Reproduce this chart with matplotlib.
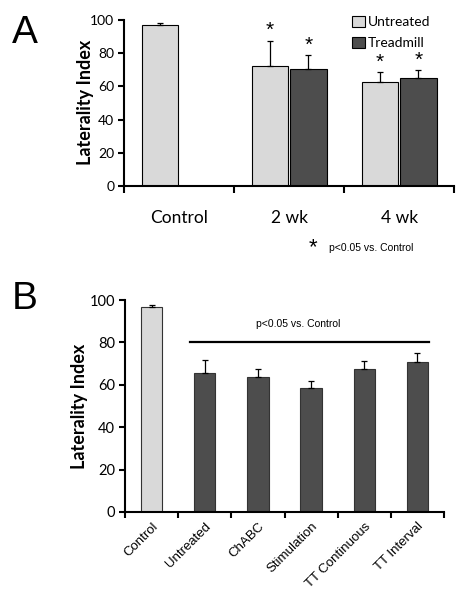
import matplotlib.pyplot as plt
import numpy as np

# panel A data
groups_a = ["Control", "2 wk", "4 wk"]
untreated_a = [96.6, 72.1, 62.4]
untreated_err_a = [1.4, 15.4, 6.3]
treadmill_a = [0, 70.3, 65.2]
treadmill_err_a = [0, 8.6, 4.3]
star_untreated = [False, True, True]
star_treadmill = [False, True, True]

# panel B data
groups_b = ["Control", "Untreated", "ChABC", "Stimulation", "TT Continuous", "TT Interval"]
values_b = [96.5, 65.6, 63.7, 58.3, 67.5, 70.9]
err_b = [1.3, 5.9, 3.9, 3.5, 3.9, 4.0]

light = "#d9d9d9"
dark = "#4d4d4d"
tick_font = "Lato"
arial = "Liberation Sans"

fig = plt.figure(figsize=(4.63, 6.0), dpi=100)

# ---------- panel A ----------
ax = fig.add_axes([0.268, 0.69, 0.713, 0.277])
x = np.arange(len(groups_a))
w = 0.33
off = 0.175
ekw = dict(ecolor="black", elinewidth=0.9, capsize=2.5, capthick=0.9)
ax.bar(x - off, untreated_a, w, color=light, edgecolor="black", linewidth=0.8, label="Untreated",
       yerr=[np.zeros(3), untreated_err_a], error_kw=ekw)
mask = np.array(treadmill_a) > 0
ax.bar(x[mask] + off, np.array(treadmill_a)[mask], w, color=dark, edgecolor="black", linewidth=0.8, label="Treadmill",
       yerr=[np.zeros(mask.sum()), np.array(treadmill_err_a)[mask]], error_kw=ekw)
for i in range(len(groups_a)):
    if star_untreated[i]:
        ax.text(x[i] - off, untreated_a[i] + untreated_err_a[i] + 6, "*", ha="center", va="center",
                fontsize=15, family=arial)
    if star_treadmill[i]:
        ax.text(x[i] + off, treadmill_a[i] + treadmill_err_a[i] + 6, "*", ha="center", va="center",
                fontsize=15, family=arial)

ax.set_xlim(-0.5, 2.5)
ax.set_ylim(0, 100)
ax.set_yticks(range(0, 101, 20))
ax.set_xticks(x)
ax.set_xticklabels(groups_a, fontsize=12.5, family=tick_font)
ax.set_xticks([-0.5, 0.5, 1.5, 2.5], minor=True)
ax.tick_params(axis="x", which="major", length=0, pad=17)
ax.tick_params(axis="x", which="minor", length=5, width=1.5, direction="out")
ax.tick_params(axis="y", length=4, width=1.5, labelsize=10, pad=3)
for lab in ax.get_yticklabels():
    lab.set_family(tick_font)
ax.set_ylabel("Laterality Index", fontsize=13, fontweight="bold", family=tick_font)
ax.yaxis.set_label_coords(-0.091, 0.505)
for s in ["top", "right"]:
    ax.spines[s].set_visible(False)
ax.spines["left"].set_linewidth(1.5)
ax.spines["bottom"].set_linewidth(1.5)
ax.legend(loc="upper right", bbox_to_anchor=(0.965, 1.1), frameon=False, handlelength=0.9, handleheight=0.9,
          handletextpad=0.2, labelspacing=0.6, prop=dict(family=tick_font, size=10))

fig.text(0.676, 0.588, "*", fontsize=16, family=arial, ha="center", va="center")
fig.text(0.711, 0.587, "p<0.05 vs. Control", fontsize=7.5, family=arial, ha="left", va="center")
fig.text(0.026, 0.928, "A", fontsize=28, family=arial, ha="left", va="baseline")

# ---------- panel B ----------
bx = fig.add_axes([0.27, 0.1467, 0.689, 0.3533])
xb = np.arange(len(groups_b))
colors_b = [light] + [dark] * (len(groups_b) - 1)
bx.bar(xb, values_b, 0.4, color=colors_b, edgecolor="#333333", linewidth=0.8,
       yerr=[np.zeros(len(xb)), err_b], error_kw=ekw)
bx.plot([0.73, 5.22], [80, 80], color="black", lw=1.6)
bx.text(2.76, 88.7, "p<0.05 vs. Control", fontsize=7.5, family=arial, ha="center", va="center")

bx.set_xlim(-0.5, 5.5)
bx.set_ylim(0, 100)
bx.set_yticks(range(0, 101, 20))
bx.set_xticks(xb)
bx.set_xticklabels(groups_b, rotation=45, ha="right", rotation_mode="anchor", fontsize=9.5, family=arial)
bx.set_xticks(np.arange(-0.5, 6, 1), minor=True)
bx.tick_params(axis="x", which="major", length=0, pad=6)
bx.tick_params(axis="x", which="minor", length=4, width=1.5, direction="out")
bx.tick_params(axis="y", length=4, width=1.5, labelsize=10.5, pad=3)
for lab in bx.get_yticklabels():
    lab.set_family(tick_font)
bx.set_ylabel("Laterality Index", fontsize=13, fontweight="bold", family=tick_font)
bx.yaxis.set_label_coords(-0.116, 0.5)
for s in ["top", "right"]:
    bx.spines[s].set_visible(False)
bx.spines["left"].set_linewidth(1.5)
bx.spines["bottom"].set_linewidth(1.5)
fig.text(0.026, 0.485, "B", fontsize=28, family=arial, ha="left", va="baseline")

fig.savefig("out.png", dpi=100)
